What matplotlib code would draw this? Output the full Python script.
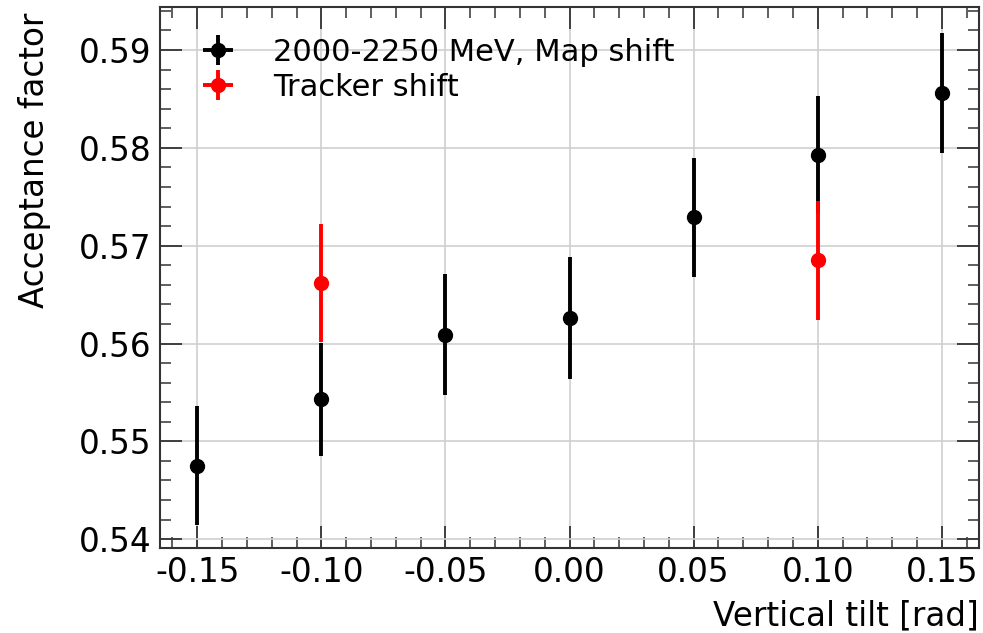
import matplotlib
matplotlib.use("Agg")
import matplotlib.pyplot as plt
from matplotlib.ticker import MultipleLocator

tilt_map = [-0.15, -0.10, -0.05, 0.00, 0.05, 0.10, 0.15]
acc_map = [0.5475, 0.5543, 0.5609, 0.5626, 0.5729, 0.5793, 0.5856]
err_map = [0.0061, 0.0058, 0.0062, 0.0062, 0.0061, 0.0060, 0.0061]

tilt_trk = [-0.10, 0.10]
acc_trk = [0.5662, 0.5685]
err_trk = [0.0060, 0.0061]

fig = plt.figure(figsize=(9.83, 6.33), dpi=100)
ax = fig.add_axes([0.1628, 0.1343, 0.8332, 0.8547])

ax.grid(True, color="#cfcfcf", linewidth=1.2, zorder=0)
ax.errorbar(tilt_map, acc_map, yerr=err_map, xerr=0, fmt="o", color="black",
            markersize=10, elinewidth=2.8, capsize=0,
            label="2000-2250 MeV, Map shift", zorder=3)
ax.errorbar(tilt_trk, acc_trk, yerr=err_trk, xerr=0, fmt="o", color="red",
            markersize=10, elinewidth=2.8, capsize=0,
            label="Tracker shift", zorder=4)

ax.set_xlim(-0.165, 0.165)
ax.set_ylim(0.5391, 0.5944)
ax.xaxis.set_major_locator(MultipleLocator(0.05))
ax.xaxis.set_minor_locator(MultipleLocator(0.01))
ax.yaxis.set_major_locator(MultipleLocator(0.01))
ax.yaxis.set_minor_locator(MultipleLocator(0.002))
ax.xaxis.set_major_formatter(plt.FuncFormatter(lambda v, p: f"{v:.2f}".replace("-0.00", "0.00")))
ax.yaxis.set_major_formatter(plt.FuncFormatter(lambda v, p: f"{v:.2f}"))

ax.tick_params(which="both", direction="in", top=True, right=True, labelsize=23.5,
               color="#333333")
ax.tick_params(which="major", length=16, width=1.3, pad=6)
ax.tick_params(which="minor", length=8, width=1.1)
for s in ax.spines.values():
    s.set_linewidth(1.5)
    s.set_color("#333333")

ax.set_xlabel("Vertical tilt [rad]", fontsize=23.5, loc="right", labelpad=7)
ax.set_ylabel("Acceptance factor", fontsize=23.5, loc="top", labelpad=20)
ax.yaxis.label.set_y(0.99)

ax.legend(loc="upper left", bbox_to_anchor=(0.015, 1.0), frameon=False,
          fontsize=22, handlelength=1.0, borderaxespad=0.4, handletextpad=1.3,
          labelspacing=0.2, borderpad=0.6)

fig.savefig("out.png", dpi=100)
